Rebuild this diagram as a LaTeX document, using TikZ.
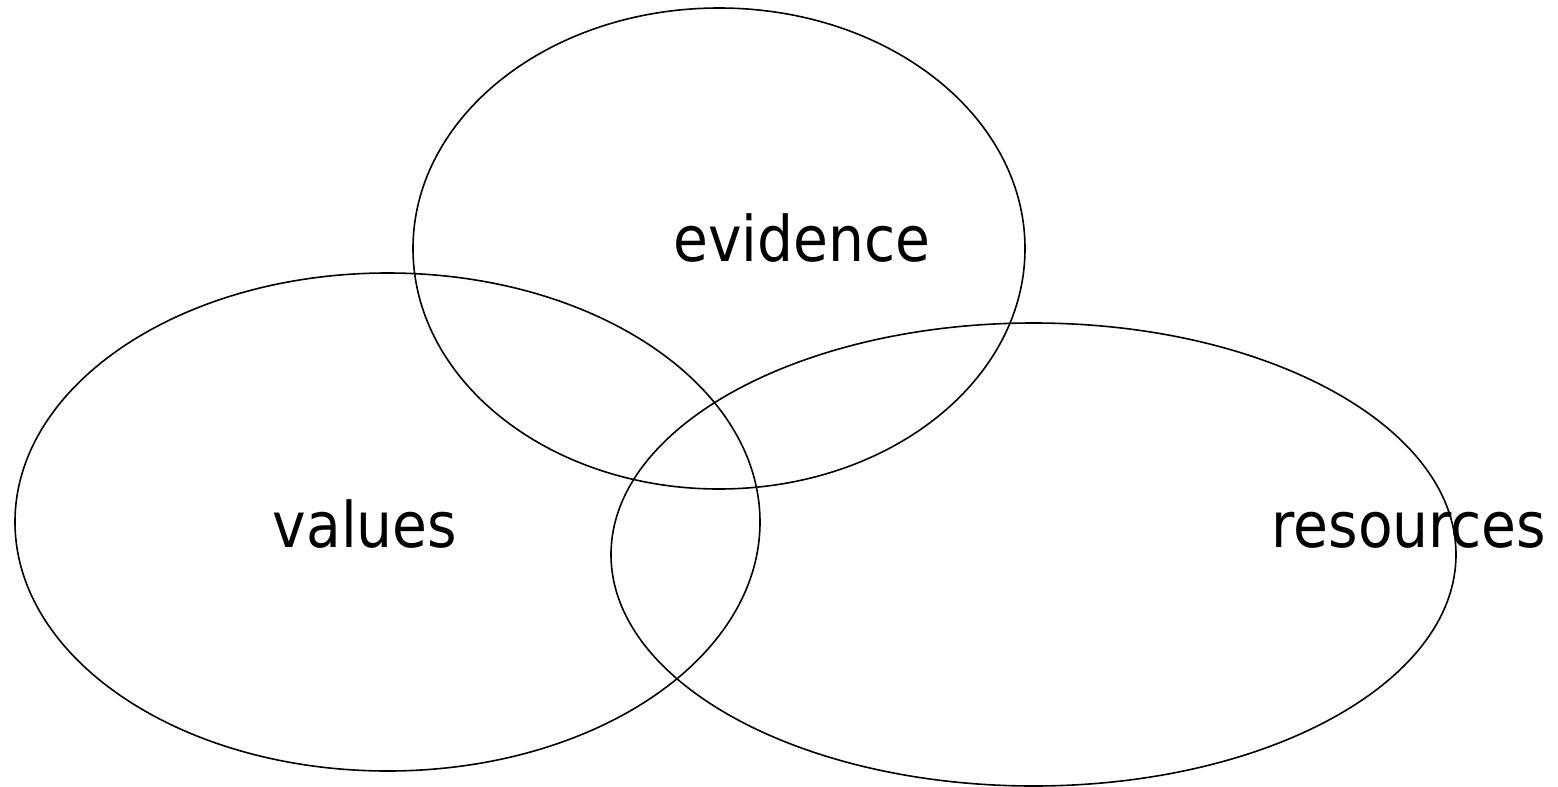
\documentclass[tikz,border=0pt]{standalone}
\usepackage{fontspec}
\newfontfamily\labelfont{DejaVu Sans Condensed}
\begin{document}
\begin{tikzpicture}[x=1pt,y=-1pt,
  set/.style={draw=black,line width=1.6pt},
  setlabel/.style={font=\labelfont\fontsize{63}{70}\selectfont,anchor=base,inner sep=0pt}]
\useasboundingbox (0,0) rectangle (1558,787);
% the three overlapping sets
\draw[set] (719,248.5) ellipse [x radius=306,y radius=240.5];
\draw[set] (387.5,522) ellipse [x radius=372.5,y radius=249];
\draw[set] (1033.5,554.5) ellipse [x radius=422.5,y radius=231.5];
% labels
\node[setlabel] (evidence) at (802,261.5) {evidence};
\node[setlabel] (values) at (365,547) {values};
\node[setlabel] (resources) at (1409,547) {resources};
\end{tikzpicture}
\end{document}
